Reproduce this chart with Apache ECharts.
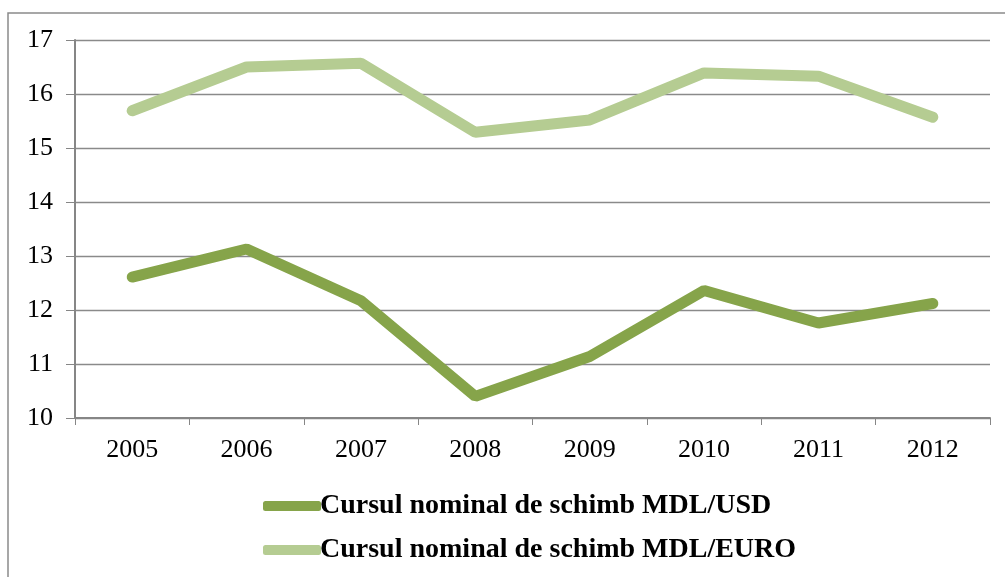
<!DOCTYPE html>
<html>
<head>
<meta charset="utf-8">
<style>
html, body { margin: 0; padding: 0; background: #ffffff; }
#container { width: 1005px; height: 577px; }
</style>
<script src="https://cdn.jsdelivr.net/npm/echarts@6/dist/echarts.min.js"></script>
</head>
<body>
<div id="container"></div>
<script type="text/javascript">
var years = ['2005', '2006', '2007', '2008', '2009', '2010', '2011', '2012'];
var usdRate = [12.61, 13.13, 12.17, 10.40, 11.14, 12.36, 11.76, 12.12];
var euroRate = [15.69, 16.50, 16.57, 15.29, 15.52, 16.39, 16.33, 15.57];
var usdName = 'Cursul nominal de schimb MDL/USD';
var euroName = 'Cursul nominal de schimb MDL/EURO';

var myChart = echarts.init(document.getElementById('container'));
var serif = '"Liberation Serif", "DejaVu Serif", serif';

option = {
    animation: false,
    backgroundColor: '#ffffff',
    color: ['#86a44a', '#b5cc92'],
    graphic: [
        {
            type: 'rect',
            shape: { x: 8, y: 13, width: 1010, height: 600 },
            style: { fill: 'none', stroke: '#8a8a8a', lineWidth: 1.5 },
            z: -1
        }
    ],
    grid: { left: 75, right: 15, top: 40, bottom: 159 },
    legend: {
        orient: 'vertical',
        left: 258,
        top: 487,
        itemGap: 16,
        itemWidth: 58,
        itemHeight: 10,
        icon: 'roundRect',
        data: [usdName, euroName],
        textStyle: { fontFamily: serif, fontWeight: 'bold', fontSize: 28, color: '#000', padding: [0, 0, 0, -6] }
    },
    xAxis: {
        type: 'category',
        data: years,
        boundaryGap: true,
        axisLine: { lineStyle: { color: '#868686', width: 2 } },
        axisTick: { show: true, interval: 0, length: 7, lineStyle: { color: '#868686', width: 1 } },
        axisLabel: { fontFamily: serif, fontSize: 26, color: '#000', margin: 19 }
    },
    yAxis: {
        type: 'value',
        min: 10,
        max: 17,
        interval: 1,
        axisLine: { show: true, lineStyle: { color: '#868686', width: 2 } },
        axisTick: { show: true, length: 9, lineStyle: { color: '#868686', width: 1 } },
        axisLabel: { fontFamily: serif, fontSize: 26, color: '#000', margin: 22 },
        splitLine: { lineStyle: { color: '#8a8a8a', width: 1.3 } }
    },
    series: [
        {
            name: usdName,
            type: 'line',
            data: usdRate,
            symbol: 'none',
            lineStyle: { width: 11, cap: 'round', join: 'bevel' }
        },
        {
            name: euroName,
            type: 'line',
            data: euroRate,
            symbol: 'none',
            lineStyle: { width: 11, cap: 'round', join: 'bevel' }
        }
    ]
};

if (option && typeof option === "object") {
    myChart.setOption(option, true);
}
</script>
</body>
</html>
